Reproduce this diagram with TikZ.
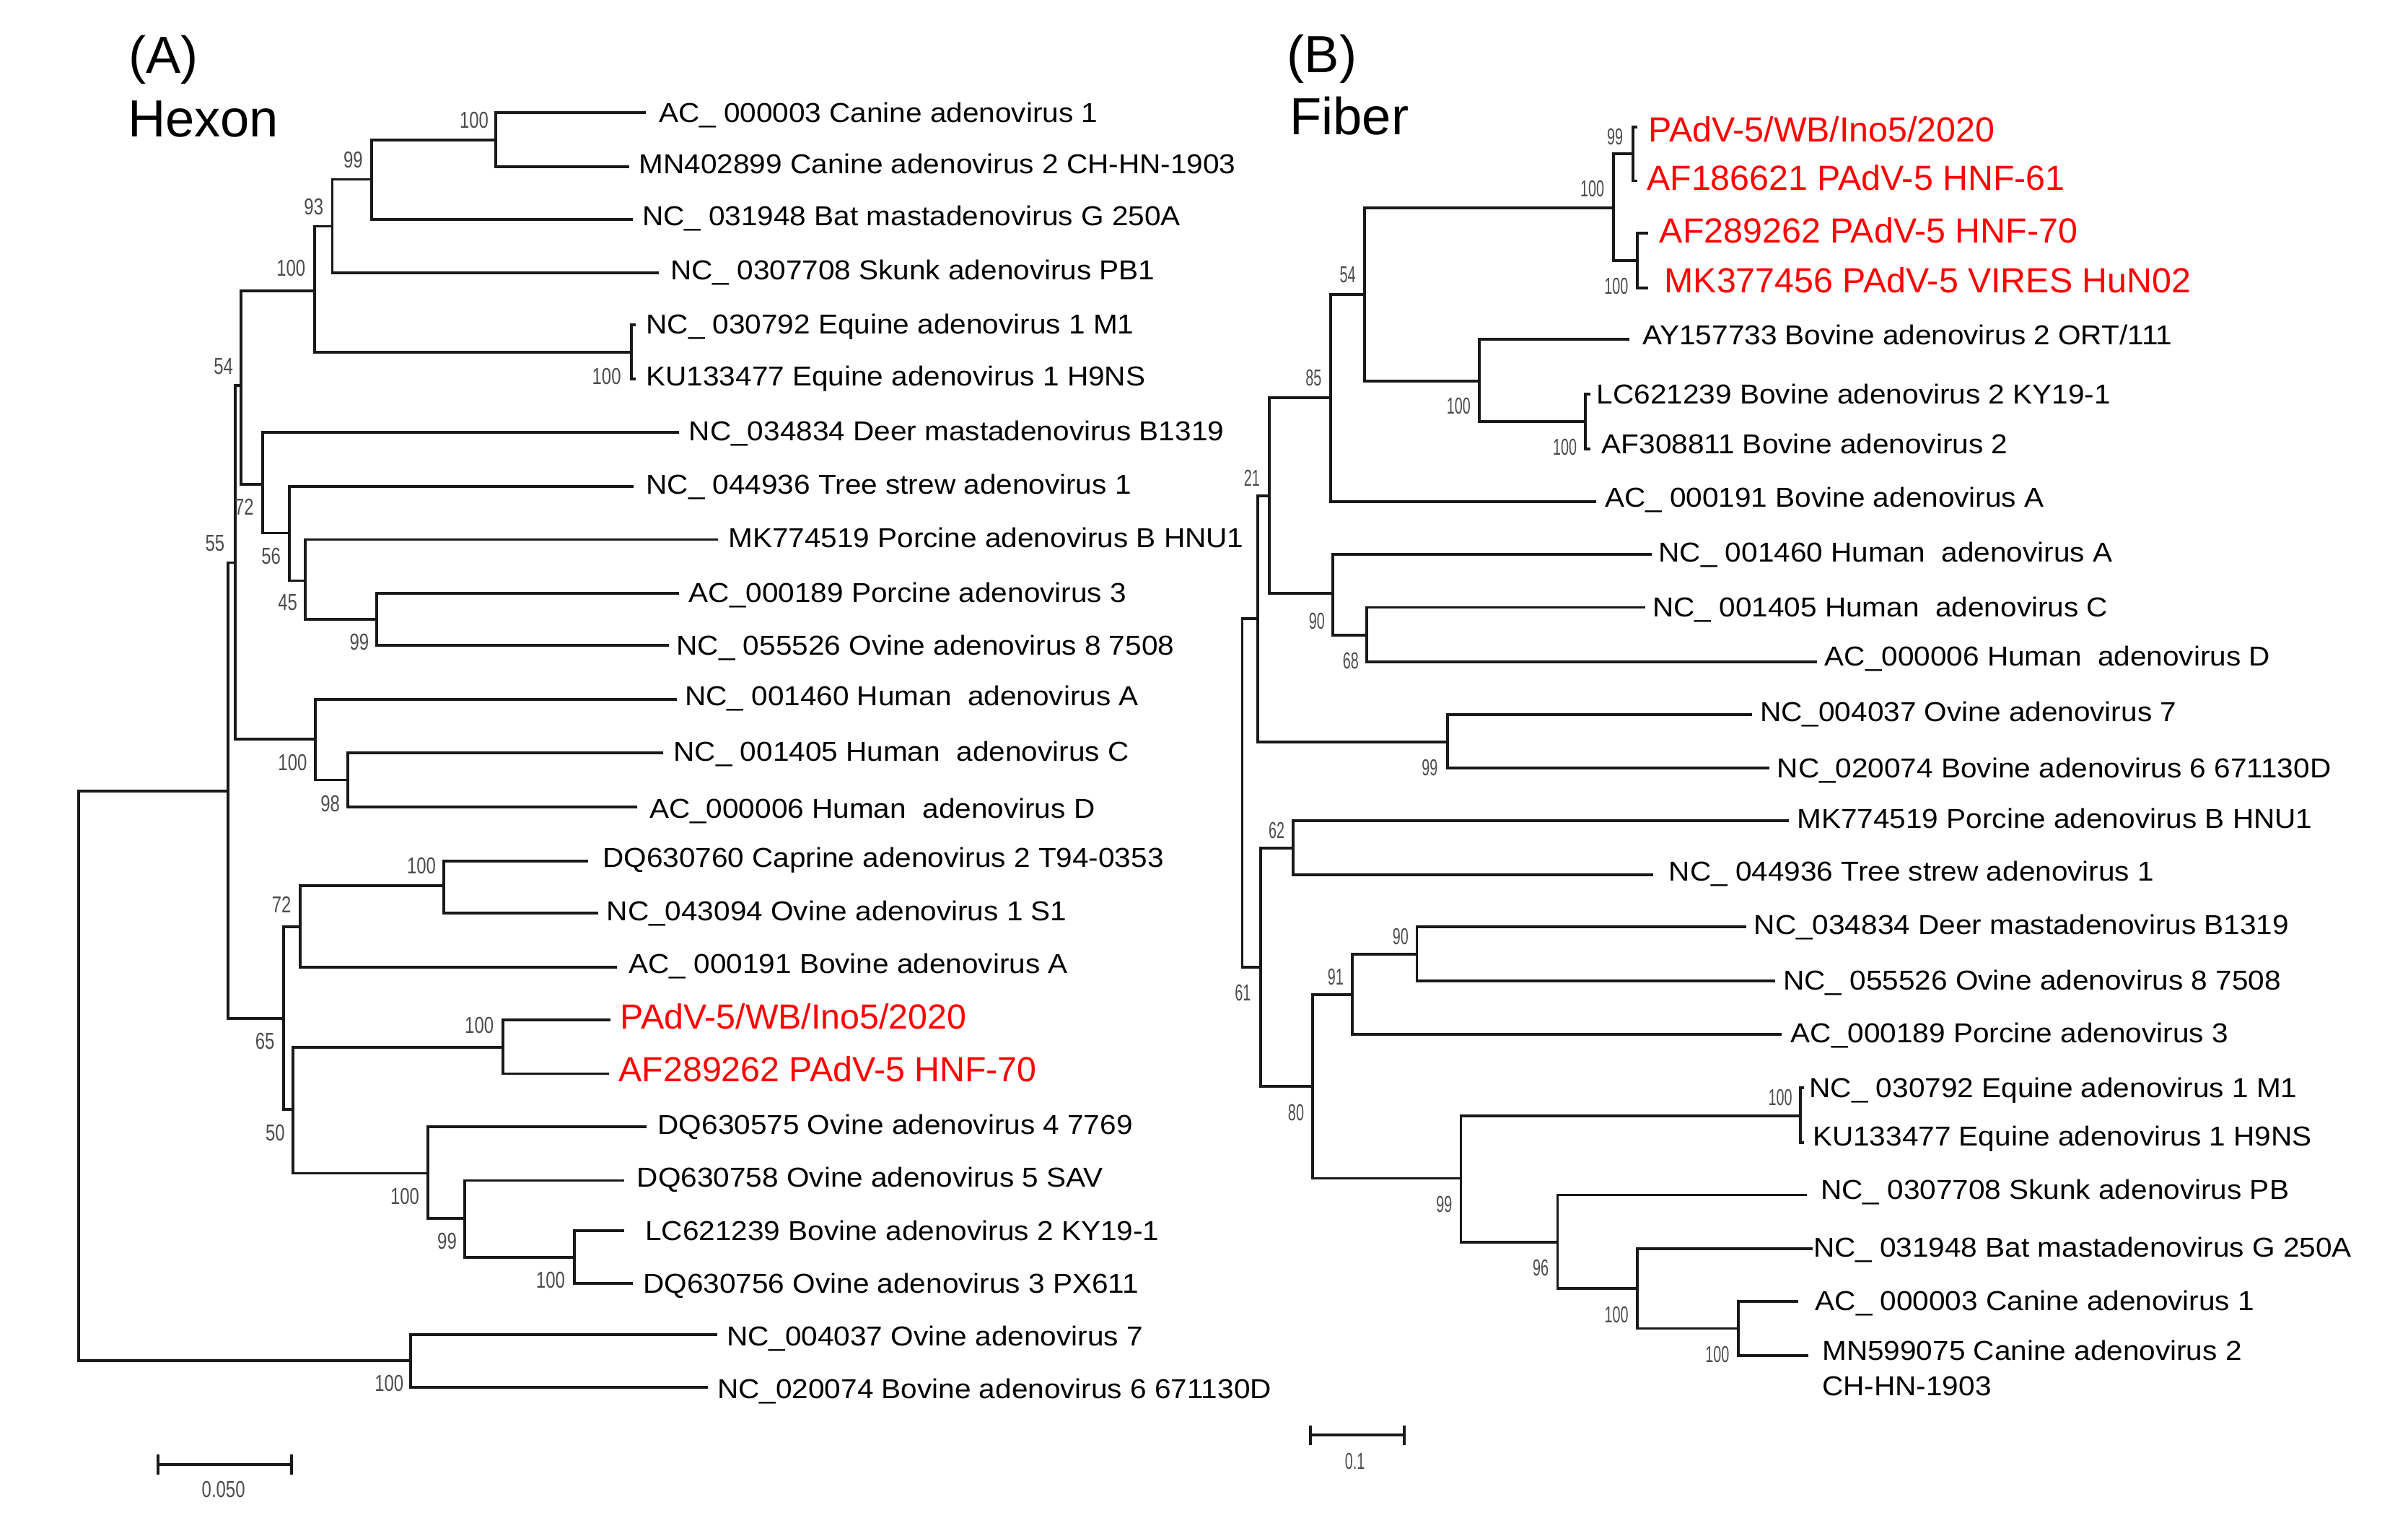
\documentclass[tikz,border=0pt]{standalone}
\usepackage{fontspec}
\setmainfont{Liberation Sans}
\usepackage{graphicx}
\newcommand{\wx}[1]{\scalebox{1.07}[1]{#1}}
\newcommand{\bA}[1]{\scalebox{0.75}[1]{#1}}
\newcommand{\bB}[1]{\scalebox{0.62}[1]{#1}}
\begin{document}
\begin{tikzpicture}[x=1pt,y=-1pt,
  br/.style={line width=1.8pt, draw=black!90},
  lab/.style={anchor=base west, inner sep=0pt, font=\fontsize{17.8}{20}\selectfont},
  rlab/.style={anchor=base west, inner sep=0pt, text=red, font=\fontsize{22.7}{26}\selectfont},
  bs/.style={inner sep=0pt, text=black!70, font=\fontsize{15}{15}\selectfont},
  ttl/.style={anchor=base west, inner sep=0pt, font=\fontsize{34}{40}\selectfont}]
\useasboundingbox[fill=white] (0,0) rectangle (1568,991);

% ---------- titles ----------
\node[ttl] (tA) at (83.5,47.5) {(A)};
\node[ttl] (tHex) at (83,89.1) {Hexon};
\node[ttl] (tB) at (838,47) {(B)};
\node[ttl] (tFib) at (839.7,87.4) {Fiber};

% ---------- tree A internal nodes ----------
\coordinate (aR) at (51.1,700);
\coordinate (aY) at (148.3,514.8);
\coordinate (a55) at (153.3,366.3);
\coordinate (a54) at (157,251);
\coordinate (a100a) at (204.8,189.4);
\coordinate (a93) at (216.4,147.3);
\coordinate (a99) at (241.8,116.8);
\coordinate (acan) at (322.8,91.1);
\coordinate (aeq) at (411.2,229.2);
\coordinate (a72) at (171,315.2);
\coordinate (a56) at (188.6,347);
\coordinate (a45) at (198.9,378);
\coordinate (a99b) at (245.3,403.2);
\coordinate (ahum) at (205.3,481.2);
\coordinate (a98) at (226.4,507.7);
\coordinate (a65) at (184.6,662.8);
\coordinate (a72b) at (195.4,603.3);
\coordinate (acap) at (289,576.7);
\coordinate (a50) at (190.6,722.3);
\coordinate (apadv) at (327.5,681.6);
\coordinate (a100o) at (278.5,763.8);
\coordinate (a99c) at (302.7,793);
\coordinate (a100d) at (374,818.4);
\coordinate (aE) at (267.4,885.8);
% tips
\coordinate (aL1) at (420.6,73.2);
\coordinate (aL2) at (409.8,108.6);
\coordinate (aL3) at (412,142.8);
\coordinate (aL4) at (429.2,177.6);
\coordinate (aL5) at (414,211.5);
\coordinate (aL6) at (414,246.7);
\coordinate (aL7) at (442.2,281.6);
\coordinate (aL8) at (412.5,316.8);
\coordinate (aL9) at (467.4,351.2);
\coordinate (aL10) at (442.2,386.4);
\coordinate (aL11) at (435.4,420);
\coordinate (aL12) at (440.8,455.2);
\coordinate (aL13) at (431.9,490);
\coordinate (aL14) at (414.7,525.3);
\coordinate (aL15) at (382.8,560.5);
\coordinate (aL16) at (389.5,594.4);
\coordinate (aL17) at (401.8,629.6);
\coordinate (aL18) at (397.7,663.9);
\coordinate (aL19) at (396.8,698.9);
\coordinate (aL20) at (421.1,733.3);
\coordinate (aL21) at (406.5,768.5);
\coordinate (aL22) at (406.3,801.3);
\coordinate (aL23) at (412,835.6);
\coordinate (aL24) at (467,868.7);
\coordinate (aL25) at (461,903);

\foreach \p/\c in {aR/aY,aR/aE,aY/a55,aY/a65,a55/a54,a55/ahum,a54/a100a,a54/a72,
  a100a/a93,a100a/aeq,a93/a99,a93/aL4,a99/acan,a99/aL3,acan/aL1,acan/aL2,aeq/aL5,aeq/aL6,
  a72/aL7,a72/a56,a56/aL8,a56/a45,a45/aL9,a45/a99b,a99b/aL10,a99b/aL11,
  ahum/aL12,ahum/a98,a98/aL13,a98/aL14,a65/a72b,a65/a50,a72b/acap,a72b/aL17,
  acap/aL15,acap/aL16,a50/apadv,a50/a100o,apadv/aL18,apadv/aL19,a100o/aL20,a100o/a99c,
  a99c/aL21,a99c/a100d,a100d/aL22,a100d/aL23,aE/aL24,aE/aL25}
  \draw[br] (\p) |- (\c);

% tree A labels
\node[lab] (tA1) at (428.8,79.7) {\wx{AC\_ 000003 Canine adenovirus 1}};
\node[lab] (tA2) at (416,113.2) {\wx{MN402899 Canine adenovirus 2 CH-HN-1903}};
\node[lab] (tA3) at (418,146.8) {\wx{NC\_ 031948 Bat mastadenovirus G 250A}};
\node[lab] (tA4) at (436.4,182) {\wx{NC\_ 0307708 Skunk adenovirus PB1}};
\node[lab] (tA5) at (420.6,217.3) {\wx{NC\_ 030792 Equine adenovirus 1 M1}};
\node[lab] (tA6) at (420.6,251) {\wx{KU133477 Equine adenovirus 1 H9NS}};
\node[lab] (tA7) at (448.5,286.9) {\wx{NC\_034834 Deer mastadenovirus B1319}};
\node[lab] (tA8) at (420.6,321.4) {\wx{NC\_ 044936 Tree strew adenovirus 1}};
\node[lab] (tA9) at (474.1,356.6) {\wx{MK774519 Porcine adenovirus B HNU1}};
\node[lab] (tA10) at (448.5,392.2) {\wx{AC\_000189 Porcine adenovirus 3}};
\node[lab] (tA11) at (440.4,426.5) {\wx{NC\_ 055526 Ovine adenovirus 8 7508}};
\node[lab] (tA12) at (445.8,459.5) {\wx{NC\_ 001460 Human\ \ adenovirus A}};
\node[lab] (tA13) at (438.5,495.5) {\wx{NC\_ 001405 Human\ \ adenovirus C}};
\node[lab] (tA14) at (422.7,532.5) {\wx{AC\_000006 Human\ \ adenovirus D}};
\node[lab] (tA15) at (392.3,564.5) {\wx{DQ630760 Caprine adenovirus 2 T94-0353}};
\node[lab] (tA16) at (394.9,599.1) {\wx{NC\_043094 Ovine adenovirus 1 S1}};
\node[lab] (tA17) at (409.3,633.8) {\wx{AC\_ 000191 Bovine adenovirus A}};
\node[rlab] (tA18) at (403.6,669.9) {PAdV-5/WB/Ino5/2020};
\node[rlab] (tA19) at (402.8,703.9) {AF289262 PAdV-5 HNF-70};
\node[lab] (tA20) at (428.2,738.6) {\wx{DQ630575 Ovine adenovirus 4 7769}};
\node[lab] (tA21) at (414.7,772.7) {\wx{DQ630758 Ovine adenovirus 5 SAV}};
\node[lab] (tA22) at (420,807.4) {\wx{LC621239 Bovine adenovirus 2 KY19-1}};
\node[lab] (tA23) at (418.7,841.6) {\wx{DQ630756 Ovine adenovirus 3 PX611}};
\node[lab] (tA24) at (473,876) {\wx{NC\_004037 Ovine adenovirus 7}};
\node[lab] (tA25) at (467,910.5) {\wx{NC\_020074 Bovine adenovirus 6 671130D}};

% tree A bootstrap
\node[bs] (nA1) at (308.7,78.2) {\bA{100}};
\node[bs] (nA2) at (230,104.2) {\bA{99}};
\node[bs] (nA3) at (204.3,134.4) {\bA{93}};
\node[bs] (nA4) at (189.5,174.6) {\bA{100}};
\node[bs] (nA5) at (395,245.1) {\bA{100}};
\node[bs] (nA6) at (145.5,238.4) {\bA{54}};
\node[bs] (nA7) at (159,330) {\bA{72}};
\node[bs] (nA8) at (140,353.7) {\bA{55}};
\node[bs] (nA9) at (176.5,362) {\bA{56}};
\node[bs] (nA10) at (187.3,392.4) {\bA{45}};
\node[bs] (nA11) at (234,418) {\bA{99}};
\node[bs] (nA12) at (190.5,496.4) {\bA{100}};
\node[bs] (nA13) at (215,523.3) {\bA{98}};
\node[bs] (nA14) at (274.4,563.5) {\bA{100}};
\node[bs] (nA15) at (183.3,589) {\bA{72}};
\node[bs] (nA16) at (172.5,677.9) {\bA{65}};
\node[bs] (nA17) at (312.1,667.5) {\bA{100}};
\node[bs] (nA18) at (179.2,737.5) {\bA{50}};
\node[bs] (nA19) at (263.6,779) {\bA{100}};
\node[bs] (nA20) at (291.1,807.8) {\bA{99}};
\node[bs] (nA21) at (358.5,833.2) {\bA{100}};
\node[bs] (nA22) at (253.4,900.3) {\bA{100}};

% scale bar A
\coordinate (sA1) at (102.9,953.5);
\coordinate (sA2) at (190,953.5);
\draw[br] (sA1) -- (sA2);
\draw[br] ([yshift=6.5pt]sA1) -- ([yshift=-6.5pt]sA1);
\draw[br] ([yshift=6.5pt]sA2) -- ([yshift=-6.5pt]sA2);
\node[bs] (sAl) at (145.5,969.5) {\bA{0.050}};

% ---------- tree B internal nodes ----------
\coordinate (bR) at (808.9,516);
\coordinate (bP) at (819.1,402.7);
\coordinate (b21) at (826.5,322.8);
\coordinate (b85) at (866.3,258.8);
\coordinate (b54) at (888.5,191.7);
\coordinate (bpb) at (1050.5,135.5);
\coordinate (b99p) at (1063.5,100);
\coordinate (bp2) at (1066.3,169.6);
\coordinate (bbov) at (963.4,247.9);
\coordinate (bbov2) at (1032.2,274.5);
\coordinate (b90a) at (868,386.4);
\coordinate (b68) at (890,413.3);
\coordinate (b99e) at (942.5,482.9);
\coordinate (b61) at (820.8,629.7);
\coordinate (b62) at (842.2,552.1);
\coordinate (b80) at (854.8,707);
\coordinate (b91) at (880.6,647.5);
\coordinate (b90b) at (922.6,621.3);
\coordinate (b99f) at (951.3,767.1);
\coordinate (beq) at (1172.4,726.3);
\coordinate (b96) at (1014.2,808.5);
\coordinate (b100g) at (1066.3,838.7);
\coordinate (bcan) at (1131.9,864.8);
% tips
\coordinate (bL1) at (1066.3,82.6);
\coordinate (bL2) at (1066.3,117.7);
\coordinate (bL3) at (1073.2,151.8);
\coordinate (bL4) at (1073.2,187.5);
\coordinate (bL5) at (1060.8,221);
\coordinate (bL6) at (1035.4,256.7);
\coordinate (bL7) at (1035.4,292.4);
\coordinate (bL8) at (1039.5,326.6);
\coordinate (bL9) at (1075.7,361);
\coordinate (bL10) at (1071.5,395.4);
\coordinate (bL11) at (1183,430.9);
\coordinate (bL12) at (1141,465);
\coordinate (bL13) at (1152,500.1);
\coordinate (bL14) at (1165,534.3);
\coordinate (bL15) at (1076.7,569.3);
\coordinate (bL16) at (1137,603.5);
\coordinate (bL17) at (1156,638.7);
\coordinate (bL18) at (1160.2,673.3);
\coordinate (bL19) at (1174.9,708.2);
\coordinate (bL20) at (1174.9,743.8);
\coordinate (bL21) at (1176.6,777.9);
\coordinate (bL22) at (1180.2,813);
\coordinate (bL23) at (1170.7,847.2);
\coordinate (bL24) at (1177.4,882.3);

\foreach \p/\c in {bR/bP,bR/b61,bP/b21,bP/b99e,b21/b85,b21/b90a,b85/b54,b85/bL8,
  b54/bpb,b54/bbov,bpb/b99p,bpb/bp2,b99p/bL1,b99p/bL2,bp2/bL3,bp2/bL4,bbov/bL5,bbov/bbov2,
  bbov2/bL6,bbov2/bL7,b90a/bL9,b90a/b68,b68/bL10,b68/bL11,b99e/bL12,b99e/bL13,
  b61/b62,b61/b80,b62/bL14,b62/bL15,b80/b91,b80/b99f,b91/b90b,b91/bL18,b90b/bL16,b90b/bL17,
  b99f/beq,b99f/b96,beq/bL19,beq/bL20,b96/bL21,b96/b100g,b100g/bL22,b100g/bcan,bcan/bL23,bcan/bL24}
  \draw[br] (\p) |- (\c);

% tree B labels
\node[rlab] (tB1) at (1073.2,92.5) {PAdV-5/WB/Ino5/2020};
\node[rlab] (tB2) at (1072.2,123.9) {AF186621 PAdV-5 HNF-61};
\node[rlab] (tB3) at (1080.5,158.1) {AF289262 PAdV-5 HNF-70};
\node[rlab] (tB4) at (1083.6,190.6) {MK377456 PAdV-5 VIRES HuN02};
\node[lab] (tB5) at (1069.4,224.2) {\wx{AY157733 Bovine adenovirus 2 ORT/111}};
\node[lab] (tB6) at (1039.6,263) {\wx{LC621239 Bovine adenovirus 2 KY19-1}};
\node[lab] (tB7) at (1042.8,295.5) {\wx{AF308811 Bovine adenovirus 2}};
\node[lab] (tB8) at (1044.9,330.1) {\wx{AC\_ 000191 Bovine adenovirus A}};
\node[lab] (tB9) at (1079.9,365.8) {\wx{NC\_ 001460 Human\ \ adenovirus A}};
\node[lab] (tB10) at (1076,401.3) {\wx{NC\_ 001405 Human\ \ adenovirus C}};
\node[lab] (tB11) at (1188,433.5) {\wx{AC\_000006 Human\ \ adenovirus D}};
\node[lab] (tB12) at (1146,469.5) {\wx{NC\_004037 Ovine adenovirus 7}};
\node[lab] (tB13) at (1157,506.3) {\wx{NC\_020074 Bovine adenovirus 6 671130D}};
\node[lab] (tB14) at (1170,539.3) {\wx{MK774519 Porcine adenovirus B HNU1}};
\node[lab] (tB15) at (1086.6,573.5) {\wx{NC\_ 044936 Tree strew adenovirus 1}};
\node[lab] (tB16) at (1142,608.3) {\wx{NC\_034834 Deer mastadenovirus B1319}};
\node[lab] (tB17) at (1161,644.3) {\wx{NC\_ 055526 Ovine adenovirus 8 7508}};
\node[lab] (tB18) at (1165.9,678.8) {\wx{AC\_000189 Porcine adenovirus 3}};
\node[lab] (tB19) at (1178.1,714.5) {\wx{NC\_ 030792 Equine adenovirus 1 M1}};
\node[lab] (tB20) at (1180.2,745.9) {\wx{KU133477 Equine adenovirus 1 H9NS}};
\node[lab] (tB21) at (1185.4,780.5) {\wx{NC\_ 0307708 Skunk adenovirus PB}};
\node[lab] (tB22) at (1180.6,818.3) {\wx{NC\_ 031948 Bat mastadenovirus G 250A}};
\node[lab] (tB23) at (1181.9,852.9) {\wx{AC\_ 000003 Canine adenovirus 1}};
\node[lab] (tB24) at (1186.4,885.4) {\wx{MN599075 Canine adenovirus 2}};
\node[lab] (tB24b) at (1186.4,908.5) {\wx{CH-HN-1903}};

% tree B bootstrap
\node[bs] (nB1) at (1051.6,88.9) {\bB{99}};
\node[bs] (nB2) at (1036.9,123.1) {\bB{100}};
\node[bs] (nB3) at (1052.5,186.5) {\bB{100}};
\node[bs] (nB4) at (877.5,179.1) {\bB{54}};
\node[bs] (nB5) at (949.8,264.1) {\bB{100}};
\node[bs] (nB6) at (1019,290.9) {\bB{100}};
\node[bs] (nB7) at (855.4,246.2) {\bB{85}};
\node[bs] (nB8) at (815.2,311.3) {\bB{21}};
\node[bs] (nB9) at (857.5,404.2) {\bB{90}};
\node[bs] (nB10) at (879.6,430) {\bB{68}};
\node[bs] (nB11) at (931,499.7) {\bB{99}};
\node[bs] (nB12) at (831.3,540.6) {\bB{62}};
\node[bs] (nB13) at (809.3,646.5) {\bB{61}};
\node[bs] (nB14) at (869.7,636) {\bB{91}};
\node[bs] (nB15) at (912,609.8) {\bB{90}};
\node[bs] (nB16) at (843.9,724.3) {\bB{80}};
\node[bs] (nB17) at (940.4,783.9) {\bB{99}};
\node[bs] (nB18) at (1159.2,714.5) {\bB{100}};
\node[bs] (nB19) at (1003.3,825.3) {\bB{96}};
\node[bs] (nB20) at (1052.6,855.8) {\bB{100}};
\node[bs] (nB21) at (1118.3,881.5) {\bB{100}};

% scale bar B
\coordinate (sB1) at (853.4,934.3);
\coordinate (sB2) at (914.2,934.3);
\draw[br] (sB1) -- (sB2);
\draw[br] ([yshift=6.5pt]sB1) -- ([yshift=-6.5pt]sB1);
\draw[br] ([yshift=6.5pt]sB2) -- ([yshift=-6.5pt]sB2);
\node[bs] (sBl) at (882.3,951.5) {\bB{0.1}};
\end{tikzpicture}
\end{document}
